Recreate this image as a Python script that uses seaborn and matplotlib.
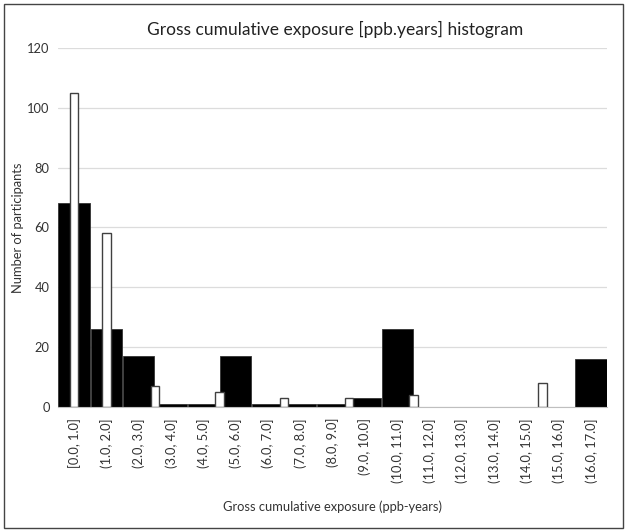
import numpy as np
import pandas as pd
import seaborn as sns
import matplotlib.pyplot as plt
from matplotlib.patches import Rectangle

# bin labels along the x axis
bin_labels = ["[0.0, 1.0]", "(1.0, 2.0]", "(2.0, 3.0]", "(3.0, 4.0]", "(4.0, 5.0]",
              "(5.0, 6.0]", "(6.0, 7.0]", "(7.0, 8.0]", "(8.0, 9.0]", "(9.0, 10.0]",
              "(10.0, 11.0]", "(11.0, 12.0]", "(12.0, 13.0]", "(13.0, 14.0]",
              "(14.0, 15.0]", "(15.0, 16.0]", "(16.0, 17.0]"]

# black series: one count per bin
black_counts = [68, 26, 17, 1, 1, 17, 1, 1, 1, 3, 26, 0, 0, 0, 0, 0, 16]

# white series: drawn at its own positions (bin index units)
white_pos = [0, 1, 2.5, 4.5, 6.5, 8.5, 10.5, 14.5]
white_counts = [105, 58, 7, 5, 3, 3, 4, 8]

sns.set_style("white")
plt.rcParams['font.family'] = ['Lato', 'DejaVu Sans']

black_df = pd.DataFrame({'pos': np.arange(len(bin_labels)), 'count': black_counts})
white_df = pd.DataFrame({'pos': white_pos, 'count': white_counts})

fig = plt.figure(figsize=(6.27, 5.32), dpi=100)
ax = fig.add_axes([0.0925, 0.235, 0.876, 0.675])

sns.barplot(data=black_df, x='pos', y='count', native_scale=True, width=0.97,
            color='black', edgecolor='#333333', linewidth=0.6, saturation=1, ax=ax)
sns.barplot(data=white_df, x='pos', y='count', native_scale=True, width=0.26,
            color='white', edgecolor='#404040', linewidth=1.0, saturation=1, ax=ax)

ax.set_xlim(-0.5, len(bin_labels) - 0.5)
ax.set_ylim(0, 120)
ax.set_yticks(range(0, 121, 20))
ax.set_xticks(np.arange(len(bin_labels)))
ax.set_xticklabels(bin_labels, rotation=90, fontsize=9.3, color='#333333')
ax.tick_params(axis='y', labelsize=9.3, colors='#333333', length=0, pad=6)
ax.tick_params(axis='x', length=0, pad=8)

ax.grid(axis='y', color='#dcdcdc', linewidth=0.9)
ax.set_axisbelow(True)
for side in ['top', 'right', 'left']:
    ax.spines[side].set_visible(False)
ax.spines['bottom'].set_color('#bfbfbf')

ax.set_xlabel('Gross cumulative exposure (ppb-years)', fontsize=9.3, color='#333333', labelpad=13)
ax.set_ylabel('Number of participants', fontsize=9.3, color='#333333')
ax.yaxis.set_label_coords(-0.062, 0.5)
fig.text(0.535, 0.935, 'Gross cumulative exposure [ppb.years] histogram',
         ha='center', fontsize=12.5, color='#222222')

# outer frame around the whole picture
fig.add_artist(Rectangle((0.007, 0.007), 0.986, 0.986, transform=fig.transFigure,
                         fill=False, edgecolor='#444444', linewidth=1.0))

fig.savefig('out.png', dpi=100)
